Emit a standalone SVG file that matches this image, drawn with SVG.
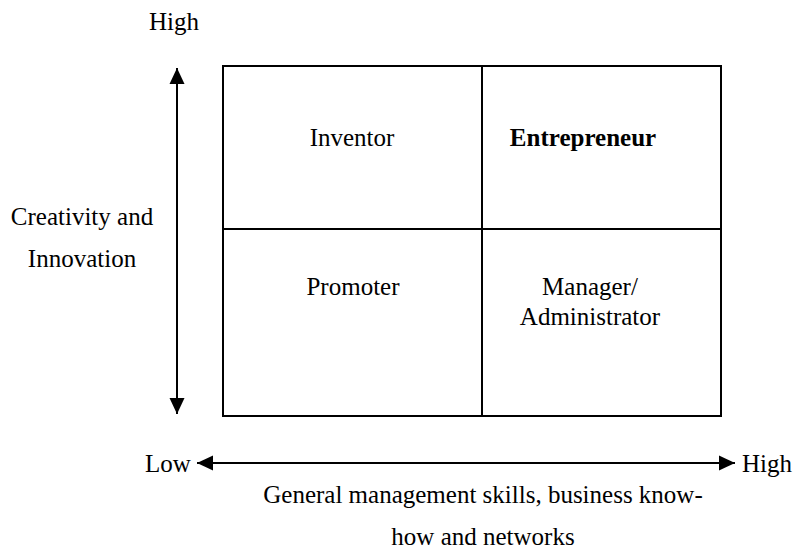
<svg xmlns="http://www.w3.org/2000/svg" width="808" height="552" viewBox="0 0 808 552" font-family="'Liberation Serif', 'Times New Roman', serif">
<style>
text{font-family:'Liberation Serif','Times New Roman',serif;font-size:25px;fill:#000}
.c{text-anchor:middle}
.b{font-weight:bold}
.ln{stroke:#000;stroke-width:2;fill:none}
</style>
<defs>
<marker id="ah" viewBox="0 0 16 16" refX="16" refY="8" markerWidth="16" markerHeight="16" markerUnits="userSpaceOnUse" orient="auto-start-reverse">
<path d="M0,0.5 L16,8 L0,15.5 z" fill="#000"/>
</marker>
</defs>
<rect width="808" height="552" fill="#fff"/>
<g id="grid">
<rect x="223" y="66" width="498" height="350" class="ln"/>
<line x1="482" y1="66" x2="482" y2="416" class="ln"/>
<line x1="223" y1="229" x2="721" y2="229" class="ln"/>
</g>
<g id="inventor"><text x="352" y="146" class="c">Inventor</text></g>
<g id="entrepreneur"><text x="583" y="146" class="c b">Entrepreneur</text></g>
<g id="promoter"><text x="353" y="295" class="c">Promoter</text></g>
<g id="manager"><text x="590" y="295" class="c">Manager/</text><text x="590" y="325" class="c">Administrator</text></g>
<g id="connectors">
<line x1="177" y1="68" x2="177" y2="414" stroke="#000" stroke-width="2" marker-start="url(#ah)" marker-end="url(#ah)"/>
<line x1="197" y1="463" x2="735" y2="463" stroke="#000" stroke-width="2" marker-start="url(#ah)" marker-end="url(#ah)"/>
</g>
<g id="labels">
<text x="174" y="30" class="c">High</text>
<text x="82" y="225" class="c">Creativity and</text>
<text x="82" y="267" class="c">Innovation</text>
<text x="145" y="472">Low</text>
<text x="742" y="472">High</text>
<text x="483" y="503" class="c">General management skills, business know-</text>
<text x="483" y="545" class="c">how and networks</text>
</g>
</svg>
